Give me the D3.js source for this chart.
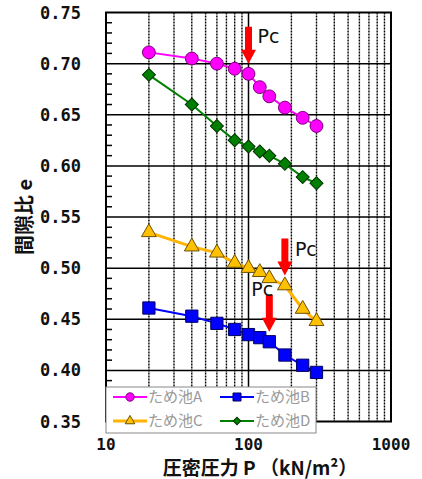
<!DOCTYPE html>
<html>
<head>
<meta charset="utf-8">
<script src="https://cdn.jsdelivr.net/npm/d3@7"></script>
<style>
  body { margin: 0; background: #fff; }
  svg { display: block; }
</style>
</head>
<body>
<div id="chart"></div>
<script>
// consolidation test: load steps (kN/m2) and void ratio e for each pond
var pressures = [20, 40, 60, 80, 100, 120, 140, 180, 240, 300];
var eA = [0.711, 0.705, 0.700, 0.695, 0.690, 0.677, 0.668, 0.657, 0.647, 0.639];
var eB = [0.461, 0.453, 0.446, 0.440, 0.435, 0.432, 0.428, 0.415, 0.405, 0.398];
var eC = [0.535, 0.521, 0.515, 0.505, 0.500, 0.496, 0.490, 0.483, 0.460, 0.448];
var eD = [0.689, 0.660, 0.639, 0.625, 0.619, 0.614, 0.610, 0.602, 0.589, 0.583];
var seriesNames = ["ため池A", "ため池B", "ため池C", "ため池D"];

// consolidation yield stress Pc (pond index, pressure)
var pcPond = [0, 2, 1];
var pcPressure = [100, 180, 140];

var xTicks = [10, 100, 1000];
var yTicks = [0.35, 0.40, 0.45, 0.50, 0.55, 0.60, 0.65, 0.70, 0.75];

var width = 422, height = 479;
// note: "top" is taken by window.top, so use other names
var plotL = 106, plotR = 391, plotT = 12.5, plotB = 421.5;

var svg = d3.select("#chart").append("svg")
    .attr("width", width)
    .attr("height", height);

var x = d3.scaleLog().domain([10, 1000]).range([plotL, plotR]);
var y = d3.scaleLinear().domain([0.35, 0.75]).range([plotB, plotT]);

// styles per pond
var styles = [
    {line: "#ff00ff", fill: "#ff00ff", stroke: "#7a007a", lw: 2, sym: d3.symbolCircle, size: 130, lsize: 55, rot: 0},
    {line: "#0000ff", fill: "#0000ff", stroke: "#000060", lw: 2, sym: d3.symbolSquare, size: 150, lsize: 64, rot: 0},
    {line: "#ffb400", fill: "#ffc000", stroke: "#6a5000", lw: 3, sym: d3.symbolTriangle, size: 95, lsize: 40, rot: 0},
    {line: "#008000", fill: "#008000", stroke: "#003000", lw: 2, sym: d3.symbolSquare, size: 85, lsize: 28, rot: 45}
];
var data = [eA, eB, eC, eD];

// grid: minor dotted verticals
var minor = [];
[10, 100].forEach(function(d) {
    for (var k = 2; k <= 9; k++) minor.push(d * k);
});

var grid = svg.append("g");
grid.selectAll("line.minor")
    .data(minor)
    .enter().append("line")
    .attr("x1", function(d) { return x(d); })
    .attr("x2", function(d) { return x(d); })
    .attr("y1", plotT)
    .attr("y2", plotB)
    .style("stroke", "#000")
    .style("stroke-width", 1.4)
    .style("stroke-dasharray", "2,1");

grid.append("line")
    .attr("x1", x(100)).attr("x2", x(100))
    .attr("y1", plotT).attr("y2", plotB)
    .style("stroke", "#000")
    .style("stroke-width", 1.5);

grid.selectAll("line.h")
    .data(yTicks.slice(1, -1))
    .enter().append("line")
    .attr("x1", plotL)
    .attr("x2", plotR)
    .attr("y1", function(d) { return y(d); })
    .attr("y2", function(d) { return y(d); })
    .style("stroke", "#000")
    .style("stroke-width", 1.5);

// minor ticks on the left axis
var yMinor = d3.range(36, 75).map(function(i) { return i / 100; })
    .filter(function(d) { return Math.round(d * 100) % 5 != 0; });
grid.selectAll("line.ym")
    .data(yMinor)
    .enter().append("line")
    .attr("x1", plotL)
    .attr("x2", plotL + 6)
    .attr("y1", function(d) { return y(d); })
    .attr("y2", function(d) { return y(d); })
    .style("stroke", "#000")
    .style("stroke-width", 1.5);

// frame
svg.append("rect")
    .attr("x", plotL).attr("y", plotT)
    .attr("width", plotR - plotL).attr("height", plotB - plotT)
    .style("fill", "none")
    .style("stroke", "#000")
    .style("stroke-width", 2);

// tick labels
svg.selectAll("text.yl")
    .data(yTicks)
    .enter().append("text")
    .attr("x", 81)
    .attr("y", function(d) { return y(d); })
    .attr("dy", "0.36em")
    .attr("text-anchor", "end")
    .style("font-family", "'DejaVu Sans Mono', monospace")
    .style("font-weight", "bold")
    .style("font-size", "17px")
    .style("fill", "#111")
    .text(function(d) { return d.toFixed(2); });

svg.selectAll("text.xl")
    .data(xTicks)
    .enter().append("text")
    .attr("x", function(d) { return x(d); })
    .attr("y", 450)
    .attr("text-anchor", "middle")
    .style("font-family", "'DejaVu Sans Mono', monospace")
    .style("font-weight", "bold")
    .style("font-size", "16px")
    .style("fill", "#111")
    .text(function(d) { return d; });

// axis titles
svg.append("text")
    .attr("x", 260)
    .attr("y", 475)
    .attr("text-anchor", "middle")
    .style("font-family", "'Noto Sans CJK JP', sans-serif")
    .style("font-weight", "bold")
    .style("font-size", "19px")
    .style("fill", "#111")
    .text("圧密圧力 P （kN/m²）");

svg.append("text")
    .attr("transform", "translate(32," + ((plotT + plotB) / 2) + ") rotate(-90)")
    .attr("text-anchor", "middle")
    .style("font-family", "'Noto Sans CJK JP', sans-serif")
    .style("font-weight", "bold")
    .style("font-size", "20px")
    .style("fill", "#111")
    .text("間隙比 e");

// series lines and markers
var line = d3.line()
    .x(function(d, i) { return x(pressures[i]); })
    .y(function(d) { return y(d); });

data.forEach(function(vals, s) {
    var st = styles[s];
    var g = svg.append("g");
    g.append("path")
        .attr("d", line(vals))
        .style("fill", "none")
        .style("stroke", st.line)
        .style("stroke-width", st.lw);
    g.selectAll("path.pt")
        .data(vals)
        .enter().append("path")
        .attr("d", d3.symbol().type(st.sym).size(st.size))
        .attr("transform", function(d, i) {
            return "translate(" + x(pressures[i]) + "," + y(d) + ") rotate(" + st.rot + ")";
        })
        .style("fill", st.fill)
        .style("stroke", st.stroke)
        .style("stroke-width", 1);
});

// Pc arrows
var labelOffset = [[9, -21], [10, -20], [-18, -36]];
pcPond.forEach(function(s, k) {
    var p = pcPressure[k];
    var idx = pressures.indexOf(p);
    var px = x(p);
    var tip = y(data[s][idx]) - 10;
    var len = 37, head = 14, hw = 7.5, sw = 3.5;
    var pts = [
        [px - sw, tip - len], [px + sw, tip - len], [px + sw, tip - head],
        [px + hw, tip - head], [px, tip], [px - hw, tip - head], [px - sw, tip - head]
    ];
    svg.append("path")
        .attr("d", "M" + pts.join("L") + "Z")
        .style("fill", "#ff0000");
    svg.append("text")
        .attr("x", px + labelOffset[k][0])
        .attr("y", tip + labelOffset[k][1])
        .style("font-family", "'DejaVu Sans', sans-serif")
        .style("font-size", "19px")
        .style("fill", "#111")
        .text("Pc");
});

// legend
var lg = svg.append("g");
lg.append("rect")
    .attr("x", plotL).attr("y", 387)
    .attr("width", 210).attr("height", 46)
    .style("fill", "#fff")
    .style("stroke", "#888")
    .style("stroke-width", 1);

var legendOrder = [0, 1, 2, 3];
legendOrder.forEach(function(s, k) {
    var st = styles[s];
    var col = k % 2, row = Math.floor(k / 2);
    var lx = 113 + col * 107, ly = 397 + row * 24;
    lg.append("line")
        .attr("x1", lx).attr("x2", lx + 34)
        .attr("y1", ly).attr("y2", ly)
        .style("stroke", st.line)
        .style("stroke-width", st.lw);
    lg.append("path")
        .attr("d", d3.symbol().type(st.sym).size(st.lsize))
        .attr("transform", "translate(" + (lx + 17) + "," + ly + ") rotate(" + st.rot + ")")
        .style("fill", st.fill)
        .style("stroke", st.stroke)
        .style("stroke-width", 1);
    lg.append("text")
        .attr("x", lx + 35)
        .attr("y", ly)
        .attr("dy", "0.36em")
        .style("font-family", "'Noto Sans CJK JP', sans-serif")
        .style("font-size", "15px")
        .style("fill", "#999")
        .text(seriesNames[s]);
});
</script>
</body>
</html>
